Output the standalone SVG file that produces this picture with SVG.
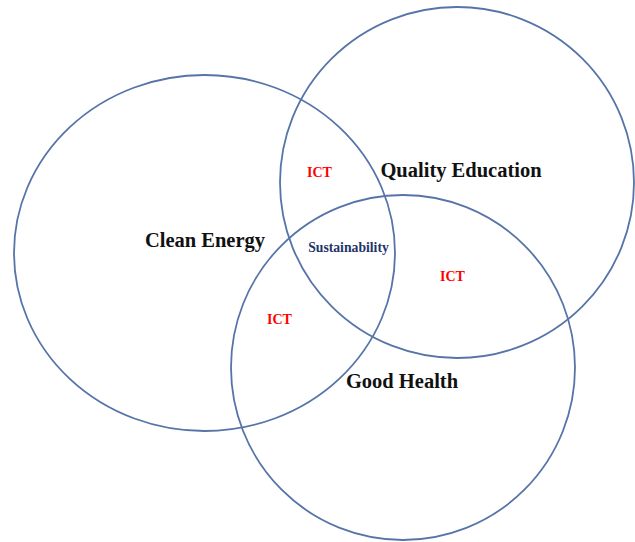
<svg xmlns="http://www.w3.org/2000/svg" width="635" height="542" viewBox="0 0 635 542">
<style>
.c{fill:none;stroke:#5674a8;stroke-width:1.8}
.t{font-family:"Liberation Serif","Times New Roman",serif;font-weight:bold;text-anchor:middle}
.big{font-size:20.5px;fill:#111}
.ict{font-size:14px;fill:#f00}
.sus{font-size:13.7px;fill:#1f3468}
</style>
<rect width="635" height="542" fill="#fff"/>
<g id="clean-energy">
<ellipse class="c" cx="204.5" cy="253" rx="190.5" ry="178"/>
<text class="t big" x="205" y="247">Clean Energy</text>
</g>
<g id="quality-education">
<ellipse class="c" cx="457" cy="182.5" rx="177" ry="175.5"/>
<text class="t big" x="461" y="177">Quality Education</text>
</g>
<g id="good-health">
<ellipse class="c" cx="403" cy="367.5" rx="172" ry="172.5"/>
<text class="t big" x="402" y="388">Good Health</text>
</g>
<g id="labels">
<text class="t ict" x="319.5" y="177">ICT</text>
<text class="t ict" x="452.5" y="281">ICT</text>
<text class="t ict" x="279.5" y="324">ICT</text>
<text class="t sus" x="348.5" y="252">Sustainability</text>
</g>
</svg>
